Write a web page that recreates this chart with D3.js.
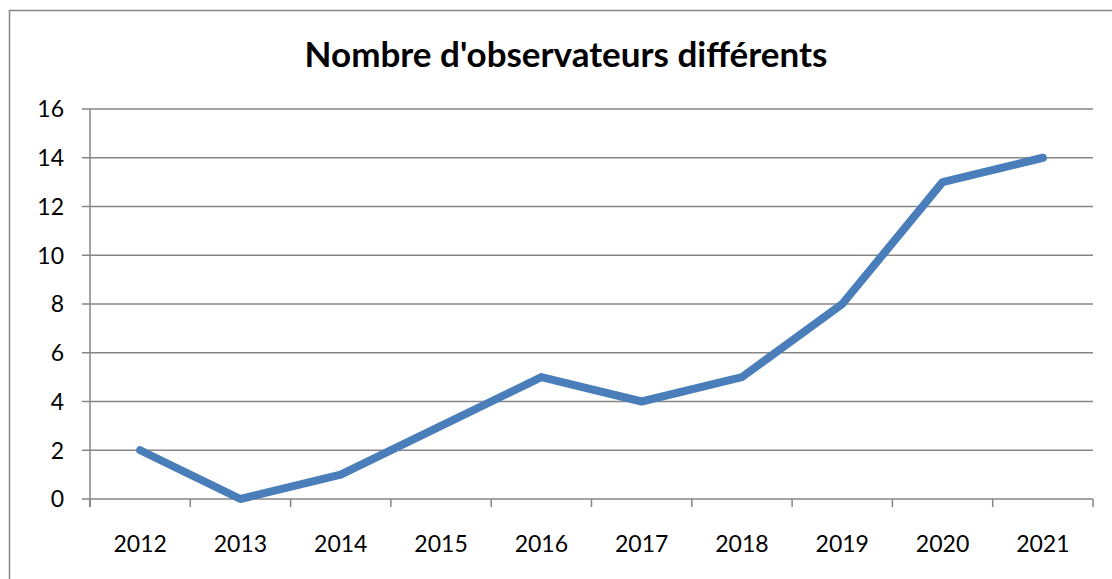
<!DOCTYPE html>
<html>
<head>
<meta charset="utf-8">
<script src="https://cdn.jsdelivr.net/npm/d3@7"></script>
<style>
  body { margin: 0; background: #fff; }
  svg { display: block; font-family: Lato, "Open Sans", sans-serif; }
</style>
</head>
<body>
<svg id="chart" width="1112" height="579"></svg>
<script>
// chart data
const years = ['2012', '2013', '2014', '2015', '2016', '2017', '2018', '2019', '2020', '2021'];
const observers = [2, 0, 1, 3, 5, 4, 5, 8, 13, 14];
const yTicks = [0, 2, 4, 6, 8, 10, 12, 14, 16];
const chartTitle = "Nombre d'observateurs différents";

const svg = d3.select('#chart');
const plot = {left: 90, right: 1093, top: 109, bottom: 499};
const axisColor = '#868686';

// outer frame (runs past the right and bottom edges)
svg.append('rect')
  .attr('x', 9.5).attr('y', 10.5)
  .attr('width', 1120).attr('height', 600)
  .attr('fill', 'none')
  .attr('stroke', axisColor)
  .attr('stroke-width', 1.5);

svg.append('text')
  .attr('x', 566).attr('y', 67)
  .attr('text-anchor', 'middle')
  .style('font-size', '35px')
  .style('font-weight', 'bold')
  .text(chartTitle);

let x = d3.scaleBand()
  .domain(years)
  .range([plot.left, plot.right]);

let y = d3.scaleLinear()
  .domain([0, 16])
  .range([plot.bottom, plot.top]);

// horizontal grid + y ticks
svg.append('g')
  .selectAll('line')
  .data(yTicks)
  .join('line')
  .attr('x1', plot.left - 8).attr('x2', plot.right)
  .attr('y1', d => y(d)).attr('y2', d => y(d))
  .attr('stroke', axisColor)
  .attr('stroke-width', 1.5);

svg.append('g')
  .selectAll('text')
  .data(yTicks)
  .join('text')
  .attr('x', plot.left - 26)
  .attr('y', d => y(d))
  .attr('dy', '0.36em')
  .attr('text-anchor', 'end')
  .style('font-size', '23px')
  .text(d => d);

// y axis line
svg.append('line')
  .attr('x1', plot.left).attr('x2', plot.left)
  .attr('y1', plot.top).attr('y2', plot.bottom + 8)
  .attr('stroke', axisColor)
  .attr('stroke-width', 1.5);

// category boundary ticks
let bounds = years.map(d => x(d)).concat([plot.right]);
svg.append('g')
  .selectAll('line')
  .data(bounds)
  .join('line')
  .attr('x1', d => d).attr('x2', d => d)
  .attr('y1', plot.bottom).attr('y2', plot.bottom + 8)
  .attr('stroke', axisColor)
  .attr('stroke-width', 1.5);

svg.append('g')
  .selectAll('text')
  .data(years)
  .join('text')
  .attr('x', d => x(d) + x.bandwidth() / 2)
  .attr('y', 552)
  .attr('text-anchor', 'middle')
  .style('font-size', '23px')
  .text(d => d);

// the series line
let line = d3.line()
  .x((d, i) => x(years[i]) + x.bandwidth() / 2)
  .y(d => y(d));

svg.append('path')
  .datum(observers)
  .attr('d', line)
  .attr('fill', 'none')
  .attr('stroke', '#4A7EBB')
  .attr('stroke-width', 8)
  .attr('stroke-linecap', 'round')
  .attr('stroke-linejoin', 'round');
</script>
</body>
</html>
